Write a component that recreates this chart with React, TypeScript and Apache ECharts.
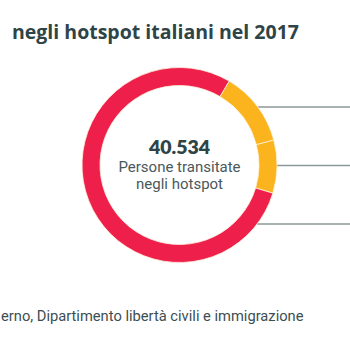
import React, { useEffect, useRef } from "react";
import * as echarts from "echarts";

const categories = ["Segmento A", "Segmento B", "Segmento C"];
const values = [5022, 3558, 31954];
const colors = ["#FBB41E", "#FBB41E", "#EE1F4B"];
const titleText = "negli hotspot italiani nel 2017";
const totalLabel = "40.534";
const centerCaption = "Persone transitate\nnegli hotspot";
const sourceText = "erno, Dipartimento libertà civili e immigrazione";
const leaderYs = [107, 165.5, 224];

const CX = 179.5;
const CY = 165;
const R_OUT = 97.5;
const R_IN = 79.5;

export default function App() {
  const ref = useRef<HTMLDivElement>(null);
  useEffect(() => {
    if (!ref.current) return;
    const chart = echarts.init(ref.current, null, { renderer: "svg" });
    const lines = leaderYs.map((y) => {
      const dy = y - CY;
      const x0 = CX + Math.sqrt(Math.max(0, R_OUT * R_OUT - dy * dy));
      return {
        type: "line",
        shape: { x1: x0, y1: y, x2: 350, y2: y },
        style: { stroke: "#8c9799", lineWidth: 1.3 },
        silent: true,
      };
    });
    chart.setOption({
      animation: false,
      backgroundColor: "#ffffff",
      title: {
        text: titleText,
        left: 7,
        top: 16,
        textStyle: {
          fontFamily: "Open Sans",
          fontWeight: 700,
          fontSize: 19.5,
          color: "#2e4447",
        },
      },
      series: [
        {
          type: "pie",
          center: [CX, CY],
          radius: [R_IN, R_OUT],
          startAngle: 59.4,
          clockwise: true,
          label: { show: false },
          labelLine: { show: false },
          itemStyle: { borderColor: "#fdf3dc", borderWidth: 0.8 },
          emphasis: { disabled: true },
          data: categories.map((name, i) => ({
            name,
            value: values[i],
            itemStyle: { color: colors[i] },
          })),
        },
      ],
      graphic: [
        ...lines,
        {
          type: "text",
          x: CX,
          y: 146.5,
          style: {
            text: totalLabel,
            fontFamily: "Lato",
            fontWeight: 800,
            fontSize: 19.5,
            fill: "#2e4447",
            textAlign: "center",
            textVerticalAlign: "middle",
          },
        },
        {
          type: "text",
          x: CX,
          y: 175.5,
          style: {
            text: centerCaption,
            fontFamily: "Roboto",
            fontSize: 15,
            lineHeight: 17,
            fill: "#4a585b",
            textAlign: "center",
            textVerticalAlign: "middle",
          },
        },
        {
          type: "text",
          x: 1,
          y: 316,
          style: {
            text: sourceText,
            fontFamily: "Roboto",
            fontSize: 14.7,
            fill: "#3d4e51",
            textAlign: "left",
            textVerticalAlign: "middle",
          },
        },
      ],
    });
    return () => chart.dispose();
  }, []);
  return <div ref={ref} style={{ width: 350, height: 350, position: "absolute", left: 0, top: 0 }} />;
}
